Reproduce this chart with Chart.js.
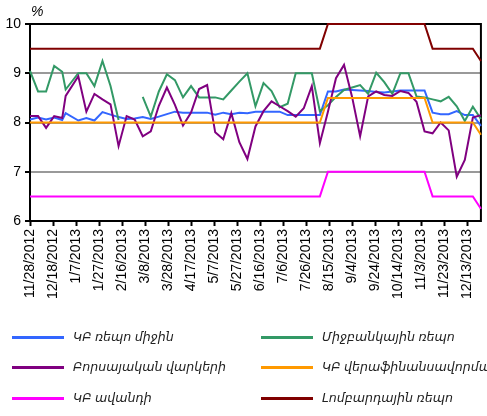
<!DOCTYPE html>
<html>
<head>
<meta charset="utf-8">
<script src="https://cdn.jsdelivr.net/npm/chart.js@4"></script>
<style>
  body { margin: 0; background: #fff; }
  #wrap { position: relative; width: 487px; height: 416px; overflow: hidden; font-family: "Liberation Sans", "DejaVu Sans", sans-serif; }
  #pct { position: absolute; left: 31px; top: 3px; font-style: italic; font-size: 14px; color: #000; }
  .lg { position: absolute; height: 20px; line-height: 20px; font-style: italic; font-size: 12.6px; white-space: nowrap; color: #222; }
  .lg span { position: absolute; left: -61px; top: 9px; width: 52px; height: 3px; }
</style>
</head>
<body>
<div id="wrap">
  <canvas id="rates" width="487" height="416"></canvas>
  <div id="pct">%</div>
</div>
<script>
// weekly observation dates (holiday week shifted)
const dates = [
  '11/28/2012', '12/5/2012', '12/12/2012', '12/19/2012', '12/26/2012', '12/29/2012',
  '1/9/2013', '1/16/2013', '1/23/2013', '1/30/2013', '2/6/2013', '2/13/2013', '2/20/2013', '2/27/2013',
  '3/6/2013', '3/13/2013', '3/20/2013', '3/27/2013', '4/3/2013', '4/10/2013', '4/17/2013', '4/24/2013',
  '5/1/2013', '5/8/2013', '5/15/2013', '5/22/2013', '5/29/2013', '6/5/2013', '6/12/2013', '6/19/2013',
  '6/26/2013', '7/3/2013', '7/10/2013', '7/17/2013', '7/24/2013', '7/31/2013', '8/7/2013', '8/14/2013',
  '8/21/2013', '8/28/2013', '9/4/2013', '9/11/2013', '9/18/2013', '9/25/2013', '10/2/2013', '10/9/2013',
  '10/16/2013', '10/23/2013', '10/30/2013', '11/6/2013', '11/13/2013', '11/20/2013', '11/27/2013',
  '12/4/2013', '12/11/2013', '12/18/2013', '12/25/2013'
];

const repoAvg = [
  8.06, 8.10, 8.06, 8.10, 8.05, 8.19, 8.04, 8.09, 8.04, 8.21,
  8.16, 8.11, 8.07, 8.08, 8.11, 8.07, 8.12, 8.17, 8.22, 8.20,
  8.20, 8.20, 8.20, 8.16, 8.20, 8.17, 8.20, 8.19, 8.22, 8.22,
  8.22, 8.22, 8.15, 8.15, 8.15, 8.15, 8.15, 8.63, 8.63, 8.67,
  8.66, 8.65, 8.64, 8.62, 8.61, 8.63, 8.65, 8.65, 8.65, 8.65,
  8.20, 8.17, 8.17, 8.23, 8.15, 8.15, 7.93
];
const interbankRepo = [
  9.05, 8.63, 8.63, 9.15, 9.03, 8.67, 9.00, 9.00, 8.74, 9.25,
  8.74, 8.05, null, null, 8.52, 8.12, 8.63, 8.98, 8.86, 8.51,
  8.74, 8.51, 8.51, 8.51, 8.47, 8.65, 8.83, 9.00, 8.33, 8.80,
  8.64, 8.31, 8.38, 9.00, 9.00, 9.00, 8.23, 8.35, 8.52, 8.66,
  8.71, 8.76, 8.58, 9.01, 8.82, 8.58, 9.00, 9.00, 8.53, 8.51,
  8.47, 8.43, 8.52, 8.33, 8.03, 8.32, 8.07
];
const exchangeLoans = [
  8.13, 8.13, 7.89, 8.13, 8.09, 8.54, 8.94, 8.22, 8.58, 8.47,
  8.37, 7.52, 8.13, 8.06, 7.72, 7.82, 8.34, 8.71, 8.36, 7.94,
  8.20, 8.68, 8.76, 7.80, 7.66, 8.19, 7.60, 7.26, 7.92, 8.23,
  8.43, 8.33, 8.23, 8.12, 8.29, 8.74, 7.58, 8.22, 8.90, 9.17,
  8.52, 7.72, 8.53, 8.63, 8.56, 8.54, 8.64, 8.60, 8.42, 7.82,
  7.78, 8.00, 7.84, 6.90, 7.24, 8.10, 8.15
];
const refinancing = [
  8, 8, 8, 8, 8, 8, 8, 8, 8, 8,
  8, 8, 8, 8, 8, 8, 8, 8, 8, 8,
  8, 8, 8, 8, 8, 8, 8, 8, 8, 8,
  8, 8, 8, 8, 8, 8, 8, 8.5, 8.5, 8.5,
  8.5, 8.5, 8.5, 8.5, 8.5, 8.5, 8.5, 8.5, 8.5, 8.5,
  8, 8, 8, 8, 8, 8, 7.75
];
const deposit = [
  6.5, 6.5, 6.5, 6.5, 6.5, 6.5, 6.5, 6.5, 6.5, 6.5,
  6.5, 6.5, 6.5, 6.5, 6.5, 6.5, 6.5, 6.5, 6.5, 6.5,
  6.5, 6.5, 6.5, 6.5, 6.5, 6.5, 6.5, 6.5, 6.5, 6.5,
  6.5, 6.5, 6.5, 6.5, 6.5, 6.5, 6.5, 7, 7, 7,
  7, 7, 7, 7, 7, 7, 7, 7, 7, 7,
  6.5, 6.5, 6.5, 6.5, 6.5, 6.5, 6.25
];
const lombard = [
  9.5, 9.5, 9.5, 9.5, 9.5, 9.5, 9.5, 9.5, 9.5, 9.5,
  9.5, 9.5, 9.5, 9.5, 9.5, 9.5, 9.5, 9.5, 9.5, 9.5,
  9.5, 9.5, 9.5, 9.5, 9.5, 9.5, 9.5, 9.5, 9.5, 9.5,
  9.5, 9.5, 9.5, 9.5, 9.5, 9.5, 9.5, 10, 10, 10,
  10, 10, 10, 10, 10, 10, 10, 10, 10, 10,
  9.5, 9.5, 9.5, 9.5, 9.5, 9.5, 9.25
];

const seriesNames = [
  'ԿԲ ռեպո միջին', 'Միջբանկային ռեպո',
  'Բորսայական վարկերի', 'ԿԲ վերաֆինանսավորման',
  'ԿԲ ավանդի', 'Լոմբարդային ռեպո'
];
const seriesColors = ['#3366ff', '#339966', '#800080', '#ff9900', '#ff00ff', '#800000'];
const seriesValues = [repoAvg, interbankRepo, exchangeLoans, refinancing, deposit, lombard];

const yTicks = [6, 7, 8, 9, 10];

const start = Date.UTC(2012, 10, 28);
function dayOf(s) {
    const [m, d, y] = s.split('/').map(Number);
    return (Date.UTC(y, m - 1, d) - start) / 86400000;
}
function dateLabel(day) {
    const d = new Date(start + day * 86400000);
    return (d.getUTCMonth() + 1) + '/' + d.getUTCDate() + '/' + d.getUTCFullYear();
}
const days = dates.map(dayOf);

// box round the plot area
const frame = {
    id: 'frame',
    beforeDatasetsDraw(chart) {
        const a = chart.chartArea, g = chart.ctx;
        g.save();
        g.strokeStyle = '#000';
        g.lineWidth = 2;
        g.strokeRect(a.left, a.top, a.right - a.left, a.bottom - a.top);
        g.restore();
    }
};

const ctx = document.getElementById('rates').getContext('2d');
new Chart(ctx, {
    type: 'line',
    data: {
        datasets: seriesValues.map((vals, i) => ({
            label: seriesNames[i],
            data: vals.map((v, k) => ({ x: days[k], y: v })),
            borderColor: seriesColors[i],
            backgroundColor: seriesColors[i],
            borderWidth: 2,
            pointRadius: 0,
            tension: 0,
            spanGaps: false,
            clip: false,
            order: -i
        }))
    },
    options: {
        responsive: false,
        animation: false,
        layout: { padding: { top: 24, right: 3, left: 0, bottom: 0 } },
        plugins: { legend: { display: false }, tooltip: { enabled: false } },
        scales: {
            x: {
                type: 'linear',
                min: 0,
                max: 392,
                afterFit: s => { s.height = 195; },
                border: { color: '#000', width: 2 },
                grid: { drawOnChartArea: false, drawTicks: true, tickLength: 5, tickColor: '#000', tickWidth: 2 },
                ticks: {
                    stepSize: 20,
                    includeBounds: false,
                    autoSkip: false,
                    maxRotation: 90,
                    minRotation: 90,
                    padding: 3,
                    color: '#000',
                    font: { family: 'Liberation Sans', size: 14 },
                    callback: v => dateLabel(v)
                }
            },
            y: {
                min: yTicks[0],
                max: yTicks[yTicks.length - 1],
                afterFit: s => { s.width = 30; },
                afterBuildTicks: s => { s.ticks = yTicks.map(v => ({ value: v })); },
                border: { color: '#000', width: 2 },
                grid: {
                    color: c => (c.tick && (c.tick.value === 6 || c.tick.value === 10)) ? 'rgba(0,0,0,0)' : '#999',
                    lineWidth: 2,
                    tickColor: '#000',
                    tickLength: 5
                },
                ticks: {
                    padding: 4,
                    color: '#000',
                    font: { family: 'Liberation Sans', size: 14 }
                }
            }
        }
    },
    plugins: [frame]
});

// legend: two columns, three rows
const wrap = document.getElementById('wrap');
const rowY = [327, 357, 388];
const colX = [73, 322];
seriesNames.forEach((name, i) => {
    const el = document.createElement('div');
    el.className = 'lg';
    el.style.left = colX[i % 2] + 'px';
    el.style.top = rowY[Math.floor(i / 2)] + 'px';
    el.textContent = name;
    const swatch = document.createElement('span');
    swatch.style.background = seriesColors[i];
    el.appendChild(swatch);
    wrap.appendChild(el);
});
</script>
</body>
</html>
